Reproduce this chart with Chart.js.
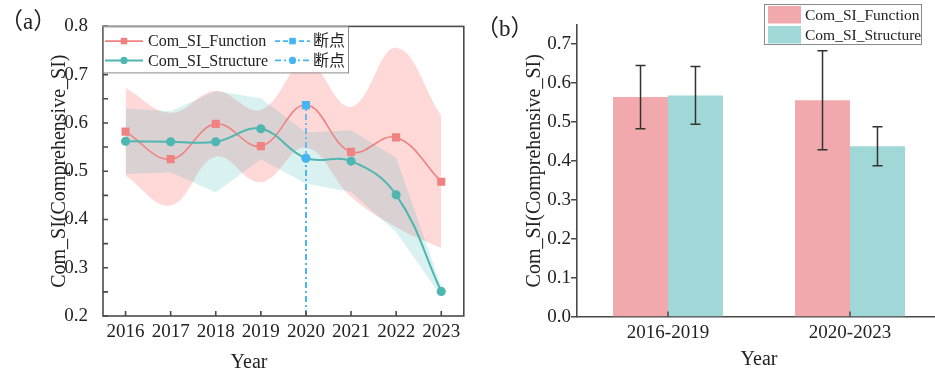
<!DOCTYPE html>
<html>
<head>
<meta charset="utf-8">
<script src="https://cdn.jsdelivr.net/npm/chart.js"></script>
<style>
  html, body { margin: 0; padding: 0; background: #fff; overflow: hidden; width: 935px; height: 374px; }
  .panel { position: absolute; top: 0; }
  #wrapA { left: 0; width: 470px; height: 374px; }
  #wrapB { left: 470px; width: 475px; height: 374px; }
</style>
</head>
<body>
<div id="wrapA" class="panel"><canvas id="panelA" width="470" height="374"></canvas></div>
<div id="wrapB" class="panel"><canvas id="panelB" width="475" height="374"></canvas></div>
<script>
// ---- yearly composite index, panel (a) ----
const years = ['2016', '2017', '2018', '2019', '2020', '2021', '2022', '2023'];
const comFunction    = [0.582, 0.525, 0.598, 0.552, 0.637, 0.540, 0.570, 0.478];
const comFunctionErr = [0.091, 0.096, 0.068, 0.075, 0.088, 0.093, 0.186, 0.137];
const comStructure    = [0.562, 0.561, 0.561, 0.588, 0.527, 0.521, 0.451, 0.251];
const comStructureErr = [0.068, 0.063, 0.105, 0.063, 0.053, 0.064, 0.077, 0.010];
const breakYear = '2020';
const yTicksA = [0.2, 0.3, 0.4, 0.5, 0.6, 0.7, 0.8];

// ---- period means, panel (b) ----
const periods = ['2016-2019', '2020-2023'];
const periodFunction    = [0.564, 0.556];
const periodFunctionErr = [0.081, 0.127];
const periodStructure    = [0.568, 0.438];
const periodStructureErr = [0.074, 0.050];
const yTicksB = [0.0, 0.1, 0.2, 0.3, 0.4, 0.5, 0.6, 0.7];

const SERIF = '"Liberation Serif", "Noto Sans CJK SC", serif';
Chart.defaults.font.family = SERIF;
Chart.defaults.color = '#222';

const RED = '#f08282', TEAL = '#4fb6b1', BLUE = '#45b5f4';
const RED_FILL = 'rgba(255,125,125,0.30)', TEAL_FILL = 'rgba(70,185,185,0.20)';
const AXIS = '#4a4a4a';
const NONE = 'rgba(0,0,0,0)';
const DASH_DOT = [6, 3, 2, 3];

const band = (vals, errs, sign) => vals.map((v, i) => +(v + sign * errs[i]).toFixed(3));
const bi = years.indexOf(breakYear);

function marker(ctx, style, x, y, r, color) {
  ctx.save();
  ctx.setLineDash([]);
  ctx.fillStyle = color;
  ctx.beginPath();
  if (style === 'rect') {
    const s = r * Math.SQRT1_2;
    ctx.rect(x - s, y - s, 2 * s, 2 * s);
  } else {
    ctx.arc(x, y, r, 0, Math.PI * 2);
  }
  ctx.fill();
  ctx.restore();
}

// frame, inward ticks, legend box and labels for panel (a)
const decorA = {
  id: 'decorA',
  afterDraw(chart) {
    const { ctx, chartArea: { left, right, top, bottom }, scales: { x, y } } = chart;
    ctx.save();
    ctx.strokeStyle = AXIS;
    ctx.lineWidth = 1.6;
    ctx.setLineDash([]);
    ctx.strokeRect(left, top, right - left, bottom - top);
    ctx.beginPath();
    years.forEach((_, i) => {
      const px = x.getPixelForValue(i);
      ctx.moveTo(px, bottom); ctx.lineTo(px, bottom - 5);
    });
    yTicksA.forEach((v, k) => {
      const py = y.getPixelForValue(v);
      ctx.moveTo(left, py); ctx.lineTo(left + 5, py);
      if (k < yTicksA.length - 1) {
        const pm = y.getPixelForValue((v + yTicksA[k + 1]) / 2);
        ctx.moveTo(left, pm); ctx.lineTo(left + 5, pm);
      }
    });
    ctx.stroke();

    // legend box
    const bx = left, by = top, bw = 245, bh = 46;
    ctx.fillStyle = '#fff';
    ctx.fillRect(bx, by, bw, bh);
    ctx.strokeStyle = '#8a8a8a';
    ctx.lineWidth = 1;
    ctx.strokeRect(bx + 0.5, by + 0.5, bw, bh);
    const items = [
      { ds: 4, x: bx + 2,   y: by + 14.7, len: 38, gap: 5 },
      { ds: 6, x: bx + 172, y: by + 14.7, len: 35, gap: 3 },
      { ds: 5, x: bx + 2,   y: by + 34,   len: 38, gap: 5 },
      { ds: 7, x: bx + 172, y: by + 34,   len: 35, gap: 3 }
    ];
    ctx.font = '16px ' + SERIF;
    ctx.textBaseline = 'middle';
    items.forEach(it => {
      const ds = chart.data.datasets[it.ds];
      const r = Array.isArray(ds.pointRadius) ? Math.max(...ds.pointRadius) : ds.pointRadius;
      ctx.strokeStyle = ds.borderColor;
      ctx.lineWidth = ds.borderWidth;
      ctx.setLineDash(ds.legendDash || ds.borderDash || []);
      ctx.beginPath();
      ctx.moveTo(it.x, it.y); ctx.lineTo(it.x + it.len, it.y);
      ctx.stroke();
      marker(ctx, ds.pointStyle, it.x + it.len / 2, it.y, r, ds.borderColor);
      ctx.fillStyle = '#222';
      ctx.fillText(ds.label, it.x + it.len + it.gap, it.y + 1);
    });

    // panel tag and x-axis title
    ctx.font = '23px ' + SERIF;
    ctx.fillStyle = '#222';
    ctx.textAlign = 'left';
    ctx.fillText('（a）', 0, 23);
    ctx.font = '20px ' + SERIF;
    ctx.textAlign = 'center';
    ctx.fillText('Year', left + 146, 363);
    ctx.restore();
  }
};

new Chart(document.getElementById('panelA'), {
  type: 'line',
  data: {
    labels: years,
    datasets: [
      { label: 'fnUpper', data: band(comFunction, comFunctionErr, 1), borderColor: NONE, borderWidth: 0,
        pointRadius: 0, tension: 0.4, fill: '+1', backgroundColor: RED_FILL, order: 10 },
      { label: 'fnLower', data: band(comFunction, comFunctionErr, -1), borderColor: NONE, borderWidth: 0,
        pointRadius: 0, tension: 0.4, fill: false, order: 10 },
      { label: 'stUpper', data: band(comStructure, comStructureErr, 1), borderColor: NONE, borderWidth: 0,
        pointRadius: 0, tension: 0, fill: '+1', backgroundColor: TEAL_FILL, order: 9 },
      { label: 'stLower', data: band(comStructure, comStructureErr, -1), borderColor: NONE, borderWidth: 0,
        pointRadius: 0, tension: 0, fill: false, order: 9 },
      { label: 'Com_SI_Function', data: comFunction, borderColor: RED, backgroundColor: RED,
        pointBorderColor: RED, pointBackgroundColor: RED, pointStyle: 'rect', pointRadius: 4.6,
        borderWidth: 1.6, tension: 0.4, fill: false, order: 3 },
      { label: 'Com_SI_Structure', data: comStructure, borderColor: TEAL, backgroundColor: TEAL,
        pointBorderColor: TEAL, pointBackgroundColor: TEAL, pointStyle: 'circle', pointRadius: 3.6,
        borderWidth: 2, tension: 0.4, fill: false, order: 2 },
      // break-point drop lines, drawn upward from the axis so both dash patterns share a phase
      { label: '断点', data: [{ x: breakYear, y: yTicksA[0] }, { x: breakYear, y: comFunction[bi] }],
        borderColor: BLUE, backgroundColor: BLUE, pointBorderColor: BLUE, pointBackgroundColor: BLUE,
        borderDash: DASH_DOT, legendDash: [5, 3], pointStyle: 'rect', pointRadius: [0, 4.6],
        borderWidth: 1.6, fill: false, order: 1 },
      { label: '断点', data: [{ x: breakYear, y: yTicksA[0] }, { x: breakYear, y: comStructure[bi] }],
        borderColor: BLUE, backgroundColor: BLUE, pointBorderColor: BLUE, pointBackgroundColor: BLUE,
        borderDash: DASH_DOT, pointStyle: 'circle', pointRadius: [0, 3.6], borderWidth: 1.6, fill: false, order: 0 }
    ]
  },
  options: {
    responsive: false,
    animation: false,
    events: [],
    layout: { padding: { top: 23, right: 4, left: 0, bottom: 0 } },
    plugins: { legend: { display: false }, tooltip: { enabled: false } },
    scales: {
      x: {
        type: 'category', offset: true,
        grid: { display: false, drawTicks: false },
        border: { display: false },
        ticks: { font: { size: 19 }, padding: 4.5, color: '#222', maxRotation: 0 },
        afterFit(s) { s.height = 58; }
      },
      y: {
        type: 'linear', min: yTicksA[0], max: yTicksA[yTicksA.length - 1],
        afterBuildTicks(s) { s.ticks = yTicksA.map(v => ({ value: v })); },
        grid: { display: false, drawTicks: false },
        border: { display: false },
        ticks: { font: { size: 19 }, padding: 15, color: '#222', callback: v => v.toFixed(1) },
        title: { display: true, text: 'Com_SI(Comprehensive_SI)', font: { size: 20 }, color: '#222',
                 padding: { top: 48, bottom: 0 } },
        afterFit(s) { s.width = 103; }
      }
    }
  },
  plugins: [decorA]
});

// error bars, inward ticks, legend and tag for panel (b)
const decorB = {
  id: 'decorB',
  afterDatasetsDraw(chart) {
    const { ctx, scales: { x, y }, chartArea: { bottom } } = chart;
    ctx.save();
    ctx.strokeStyle = '#333';
    ctx.lineWidth = 1.5;
    chart.data.datasets.forEach((ds, i) => {
      chart.getDatasetMeta(i).data.forEach((bar, j) => {
        const v = ds.data[j], e = ds.errors[j];
        const yt = y.getPixelForValue(v + e), yb = y.getPixelForValue(v - e);
        ctx.beginPath();
        ctx.moveTo(bar.x, yt); ctx.lineTo(bar.x, yb);
        ctx.moveTo(bar.x - 5, yt); ctx.lineTo(bar.x + 5, yt);
        ctx.moveTo(bar.x - 5, yb); ctx.lineTo(bar.x + 5, yb);
        ctx.stroke();
      });
    });
    ctx.strokeStyle = AXIS;
    ctx.beginPath();
    periods.forEach((_, j) => {
      const px = x.getPixelForValue(j);
      ctx.moveTo(px, bottom); ctx.lineTo(px, bottom - 5.5);
    });
    ctx.stroke();
    ctx.restore();
  },
  afterDraw(chart) {
    const { ctx } = chart;
    ctx.save();
    const bx = 294, by = 4, bw = 157, bh = 40;
    ctx.fillStyle = '#fff';
    ctx.fillRect(bx, by, bw, bh);
    ctx.strokeStyle = '#8a8a8a';
    ctx.lineWidth = 1;
    ctx.strokeRect(bx + 0.5, by + 0.5, bw, bh);
    ctx.font = '15.5px ' + SERIF;
    ctx.textBaseline = 'middle';
    const rows = [by + 2, by + 22];
    chart.data.datasets.forEach((ds, i) => {
      ctx.fillStyle = ds.backgroundColor;
      ctx.fillRect(bx + 4, rows[i], 33, 17.5);
      ctx.fillStyle = '#222';
      ctx.fillText(ds.label, bx + 41, rows[i] + 9.5);
    });
    ctx.font = '23px ' + SERIF;
    ctx.fillText('（b）', 6, 30);
    ctx.restore();
  }
};

new Chart(document.getElementById('panelB'), {
  type: 'bar',
  data: {
    labels: periods,
    datasets: [
      { label: 'Com_SI_Function', data: periodFunction, errors: periodFunctionErr,
        backgroundColor: '#f2a9ad', borderWidth: 0, categoryPercentage: 0.604, barPercentage: 1 },
      { label: 'Com_SI_Structure', data: periodStructure, errors: periodStructureErr,
        backgroundColor: '#a0d8d7', borderWidth: 0, categoryPercentage: 0.604, barPercentage: 1 }
    ]
  },
  options: {
    responsive: false,
    animation: false,
    events: [],
    layout: { padding: { top: 24.5, right: 4, left: 0, bottom: 0 } },
    plugins: { legend: { display: false }, tooltip: { enabled: false } },
    scales: {
      x: {
        type: 'category', offset: true,
        grid: { display: false, drawTicks: false },
        border: { display: true, color: AXIS, width: 1.6 },
        ticks: { font: { size: 19 }, padding: 4.5, color: '#222', maxRotation: 0 },
        title: { display: true, text: 'Year', font: { size: 20 }, color: '#222', padding: { top: 0, bottom: 2 } },
        afterFit(s) { s.height = 57; }
      },
      y: {
        type: 'linear', min: 0, max: 0.75,
        afterBuildTicks(s) { s.ticks = yTicksB.map(v => ({ value: v })); },
        grid: { display: true, drawOnChartArea: false, drawTicks: true, tickLength: 6, color: AXIS, lineWidth: 1.5 },
        border: { display: true, color: AXIS, width: 1.6 },
        ticks: { font: { size: 19 }, padding: 0, color: '#222', callback: v => v.toFixed(1) },
        title: { display: true, text: 'Com_SI(Comprehensive_SI)', font: { size: 20 }, color: '#222',
                 padding: { top: 53, bottom: 0 } },
        afterFit(s) { s.width = 107; }
      }
    }
  },
  plugins: [decorB]
});
</script>
</body>
</html>
